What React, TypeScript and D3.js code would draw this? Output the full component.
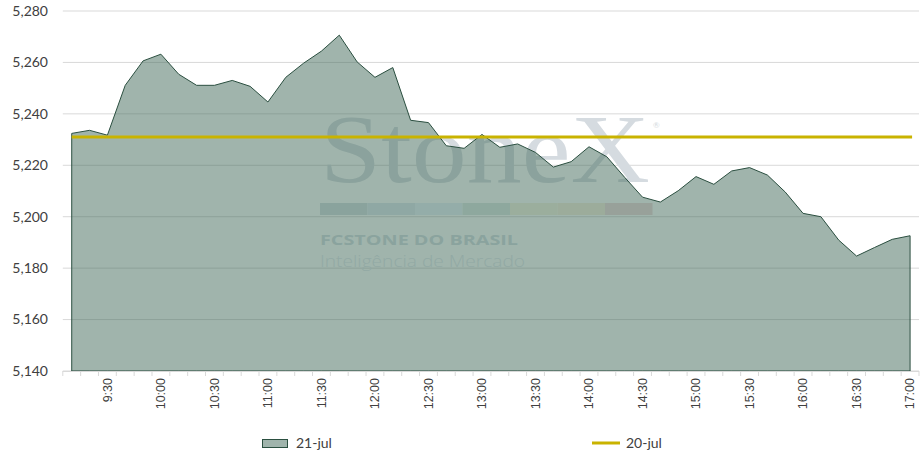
import React from "react";
import * as d3 from "d3";

const categories: string[] = [
  "9:10", "9:20", "9:30", "9:40", "9:50", "10:00", "10:10", "10:20", "10:30", "10:40", "10:50", "11:00",
  "11:10", "11:20", "11:30", "11:40", "11:50", "12:00", "12:10", "12:20", "12:30", "12:40", "12:50", "13:00",
  "13:10", "13:20", "13:30", "13:40", "13:50", "14:00", "14:10", "14:20", "14:30", "14:40", "14:50", "15:00",
  "15:10", "15:20", "15:30", "15:40", "15:50", "16:00", "16:10", "16:20", "16:30", "16:40", "16:50", "17:00",
];

const series21jul: number[] = [
  5.2324, 5.2336, 5.2317, 5.2511, 5.2606, 5.2632, 5.2554, 5.2511, 5.2511, 5.2530, 5.2507, 5.2446,
  5.2542, 5.2597, 5.2644, 5.2706, 5.2602, 5.2542, 5.2580, 5.2375, 5.2366, 5.2276, 5.2266, 5.2320,
  5.2270, 5.2283, 5.2250, 5.2193, 5.2214, 5.2272, 5.2233, 5.2153, 5.2076, 5.2057, 5.2101, 5.2156,
  5.2126, 5.2178, 5.2191, 5.2162, 5.2096, 5.2013, 5.2000, 5.1909, 5.1847, 5.1880, 5.1912, 5.1926,
];

const value20jul = 5.2310;

const yTicks: number[] = [5.14, 5.16, 5.18, 5.2, 5.22, 5.24, 5.26, 5.28];
const xTickLabels: string[] = [
  "9:30", "10:00", "10:30", "11:00", "11:30", "12:00", "12:30", "13:00",
  "13:30", "14:00", "14:30", "15:00", "15:30", "16:00", "16:30", "17:00",
];
const legendLabels: string[] = ["21-jul", "20-jul"];

const W = 920;
const H = 460;
const FONT = "Lato, 'Liberation Sans', sans-serif";

export default function App() {
  const x0 = 62.8;
  const x1 = 919;
  const yTop = 11;
  const yBot = 371;

  const x = d3.scalePoint<string>().domain(categories).range([x0, x1]).padding(0.5);
  const y = d3.scaleLinear().domain([5.14, 5.28]).range([yBot, yTop]);
  const step = x.step();

  const area = d3
    .area<number>()
    .x((_, i) => x(categories[i]) as number)
    .y0(yBot)
    .y1((d) => y(d));
  const areaPath = area(series21jul) || "";

  const fmt = (v: number) => d3.format(".3f")(v).replace(".", ",");

  const barColors = ["#d3dde1", "#dde7ef", "#e6f1f8", "#dbe7e3", "#f5f3e0", "#f7efdc", "#efd8da"];
  const wmX = 320;

  return (
    <div style={{ position: "fixed", left: 0, top: 0, width: W, height: H, background: "#fff" }}>
      <svg width={W} height={H} style={{ display: "block" }}>
        {/* gridlines */}
        {yTicks.map((t) => (
          <line key={t} x1={x0} x2={x1} y1={y(t)} y2={y(t)} stroke="#d9d9d9" strokeWidth={1} />
        ))}
        {/* y labels */}
        {yTicks.map((t) => (
          <text
            key={"l" + t}
            x={48}
            y={y(t)}
            dy="0.35em"
            textAnchor="end"
            fontFamily={FONT}
            fontSize={14}
            fill="#404040"
          >
            {fmt(t)}
          </text>
        ))}

        {/* watermark */}
        <g>
          <text
            x={wmX}
            y={182}
            fontFamily="'Liberation Serif', 'DejaVu Serif', serif"
            fontSize={98}
            fill="#d5dbe0"
            textLength={330}
            lengthAdjust="spacingAndGlyphs"
          >
            StoneX
          </text>
          <text x={653} y={128} fontFamily={FONT} fontSize={8} fill="#d5dbe0">
            ®
          </text>
          {barColors.map((c, i) => (
            <rect key={c + i} x={wmX + i * 47.5} y={203} width={47.5} height={12} fill={c} />
          ))}
          <text
            x={wmX}
            y={245}
            fontFamily="'Open Sans', Lato, sans-serif"
            fontWeight={700}
            fontSize={15}
            textLength={198}
            lengthAdjust="spacingAndGlyphs"
            fill="#d3dce2"
          >
            FCSTONE DO BRASIL
          </text>
          <text
            x={wmX}
            y={267}
            fontFamily="'Open Sans', Lato, sans-serif"
            fontWeight={300}
            fontSize={15.5}
            textLength={205}
            lengthAdjust="spacingAndGlyphs"
            fill="#e2e8ee"
          >
            Inteligência de Mercado
          </text>
        </g>

        {/* area */}
        <path d={areaPath} fill="#416959" fillOpacity={0.5} stroke="none" />
        <path d={areaPath} fill="none" stroke="#2b4f40" strokeWidth={1} strokeLinejoin="round" />

        {/* x axis */}
        <line x1={x0} x2={x1} y1={yBot + 0.5} y2={yBot + 0.5} stroke="#d9d9d9" strokeWidth={1} />
        {d3.range(categories.length + 1).map((i) => (
          <line
            key={"t" + i}
            x1={x0 + i * step}
            x2={x0 + i * step}
            y1={yBot}
            y2={yBot + 5}
            stroke="#d9d9d9"
            strokeWidth={1}
          />
        ))}
        {xTickLabels.map((lab) => {
          const cx = x(lab) as number;
          return (
            <text
              key={"x" + lab}
              transform={`translate(${cx},378) rotate(-90)`}
              dy="0.35em"
              textAnchor="end"
              fontFamily="'Liberation Sans', Arial, sans-serif"
              fontSize={12.5}
              fill="#404040"
            >
              {lab}
            </text>
          );
        })}

        {/* 20-jul line */}
        <line
          x1={x(categories[0]) as number}
          x2={(x(categories[categories.length - 1]) as number) + 2}
          y1={y(value20jul)}
          y2={y(value20jul)}
          stroke="#c9b300"
          strokeWidth={3}
        />

        {/* legend */}
        <rect x={262.5} y={439.5} width={25} height={8} fill="#416959" fillOpacity={0.5} stroke="#2b4f40" strokeWidth={1} />
        <text x={296} y={448} fontFamily={FONT} fontSize={14} fill="#404040">
          {legendLabels[0]}
        </text>
        <line x1={592} x2={620} y1={443} y2={443} stroke="#c9b300" strokeWidth={3} />
        <text x={626} y={448} fontFamily={FONT} fontSize={14} fill="#404040">
          {legendLabels[1]}
        </text>
      </svg>
    </div>
  );
}
